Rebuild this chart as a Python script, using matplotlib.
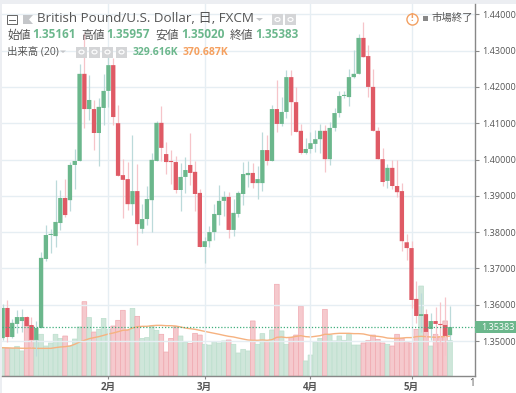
import matplotlib
matplotlib.use("Agg")
import matplotlib.pyplot as plt
from matplotlib.patches import Rectangle, Circle, Polygon

plt.rcParams['font.family'] = ['Open Sans', 'Noto Sans CJK JP', 'DejaVu Sans']

opens = [1.3508, 1.3591, 1.3511, 1.3547, 1.3555, 1.3566, 1.3544, 1.3503, 1.3536, 1.3726,
         1.3792, 1.3789, 1.3825, 1.3894, 1.3888, 1.3985, 1.3996, 1.4236, 1.4139, 1.4139,
         1.4073, 1.4142, 1.4189, 1.4260, 1.4100, 1.3957, 1.3946, 1.3877, 1.3913, 1.3809,
         1.3836, 1.3888, 1.3996, 1.4101, 1.4015, 1.3996, 1.3993, 1.3916, 1.3952, 1.3985,
         1.3966, 1.3908, 1.3759, 1.3775, 1.3800, 1.3847, 1.3886, 1.3897, 1.3806, 1.3850,
         1.3905, 1.3957, 1.3963, 1.3935, 1.3935, 1.4026, 1.3996, 1.4139, 1.4098, 1.4131,
         1.4227, 1.4158, 1.4079, 1.4018, 1.4029, 1.4043, 1.4056, 1.4079, 1.4001, 1.4087,
         1.4128, 1.4175, 1.4172, 1.4227, 1.4236, 1.4335, 1.4285, 1.4200, 1.4079, 1.4001,
         1.3941, 1.3977, 1.3927, 1.3913, 1.3772, 1.3756, 1.3616, 1.3569, 1.3574, 1.3533,
         1.3555, 1.3547, 1.3544, 1.35161]
closes = [1.3591, 1.3511, 1.3550, 1.3566, 1.3566, 1.3541, 1.3503, 1.3536, 1.3729, 1.3792,
          1.3795, 1.3828, 1.3894, 1.3847, 1.3985, 1.3996, 1.4236, 1.4139, 1.4164, 1.4073,
          1.4145, 1.4189, 1.4260, 1.4117, 1.3955, 1.3944, 1.3877, 1.3913, 1.3822, 1.3836,
          1.3891, 1.3999, 1.4101, 1.4032, 1.3993, 1.3993, 1.3916, 1.3952, 1.3971, 1.3963,
          1.3905, 1.3759, 1.3775, 1.3800, 1.3850, 1.3886, 1.3897, 1.3806, 1.3853, 1.3908,
          1.3960, 1.3963, 1.3935, 1.3946, 1.4026, 1.3996, 1.4139, 1.4098, 1.4131, 1.4227,
          1.4158, 1.4076, 1.4018, 1.4029, 1.4045, 1.4056, 1.4079, 1.4001, 1.4087, 1.4128,
          1.4175, 1.4178, 1.4227, 1.4236, 1.4335, 1.4282, 1.4200, 1.4079, 1.4001, 1.3938,
          1.3977, 1.3927, 1.3910, 1.3775, 1.3756, 1.3613, 1.3569, 1.3574, 1.3525, 1.3555,
          1.3547, 1.3544, 1.3514, 1.35383]
highs = [1.3602, 1.3613, 1.3561, 1.3585, 1.3588, 1.3569, 1.3566, 1.3555, 1.3745, 1.3820,
         1.3809, 1.3943, 1.3916, 1.3946, 1.3993, 1.4029, 1.4263, 1.4348, 1.4233, 1.4164,
         1.4169, 1.4236, 1.4282, 1.4280, 1.4150, 1.4001, 1.3993, 1.4067, 1.3988, 1.3877,
         1.3927, 1.4018, 1.4106, 1.4147, 1.4048, 1.4026, 1.4010, 1.3990, 1.4007, 1.4073,
         1.3996, 1.3919, 1.3787, 1.3817, 1.3877, 1.3930, 1.3913, 1.3911, 1.3891, 1.3913,
         1.3993, 1.3996, 1.3990, 1.3982, 1.4075, 1.4067, 1.4150, 1.4219, 1.4172, 1.4246,
         1.4246, 1.4200, 1.4098, 1.4059, 1.4076, 1.4081, 1.4098, 1.4095, 1.4103, 1.4142,
         1.4189, 1.4189, 1.4249, 1.4302, 1.4346, 1.4379, 1.4315, 1.4249, 1.4090, 1.4032,
         1.3988, 1.3999, 1.3999, 1.3935, 1.3795, 1.3775, 1.3665, 1.3632, 1.3588, 1.3577,
         1.3594, 1.3607, 1.3621, 1.35957]
lows = [1.3503, 1.3497, 1.3508, 1.3522, 1.3525, 1.3525, 1.3483, 1.3459, 1.3536, 1.3720,
        1.3742, 1.3759, 1.3806, 1.3842, 1.3858, 1.3919, 1.3996, 1.4087, 1.4109, 1.4026,
        1.3982, 1.4095, 1.4145, 1.4095, 1.3955, 1.3839, 1.3861, 1.3847, 1.3764, 1.3798,
        1.3820, 1.3800, 1.3996, 1.3996, 1.3960, 1.3932, 1.3908, 1.3858, 1.3908, 1.3930,
        1.3858, 1.3759, 1.3715, 1.3759, 1.3778, 1.3820, 1.3844, 1.3784, 1.3789, 1.3842,
        1.3875, 1.3924, 1.3921, 1.3891, 1.3913, 1.3985, 1.3996, 1.4076, 1.4092, 1.4114,
        1.4067, 1.4076, 1.4015, 1.4015, 1.4018, 1.4021, 1.4018, 1.3966, 1.3985, 1.4079,
        1.4117, 1.4170, 1.4147, 1.4225, 1.4236, 1.4282, 1.4172, 1.4079, 1.4001, 1.3927,
        1.3921, 1.3920, 1.3897, 1.3748, 1.3723, 1.3591, 1.3550, 1.3525, 1.3503, 1.3503,
        1.3483, 1.3489, 1.3461, 1.35020]

volumes = [257, 257, 257, 276, 233, 543, 465, 341, 388, 279, 307, 388, 350, 372, 279, 344,
           456, 691, 543, 409, 434, 536, 434, 465, 518, 611, 428, 629, 555, 350, 357, 465,
           425, 388, 223, 350, 459, 372, 316, 304, 397, 381, 295, 288, 319, 307, 326, 335,
           295, 214, 248, 233, 512, 295, 394, 326, 428, 853, 419, 295, 357, 381, 651, 140,
           195, 316, 350, 620, 381, 326, 372, 332, 388, 288, 288, 307, 332, 381, 341, 307,
           295, 279, 388, 350, 319, 307, 434, 837, 450, 279, 388, 363, 512, 329.616]
vol_ma = [263, 262, 260, 260, 258, 258, 260, 257, 257, 257, 257, 264, 270, 273, 279, 295,
          316, 332, 347, 357, 366, 378, 391, 400, 412, 425, 428, 446, 459, 462, 462, 468,
          471, 471, 468, 468, 465, 456, 446, 440, 434, 425, 415, 406, 397, 388, 378, 369,
          363, 353, 344, 335, 332, 332, 335, 332, 338, 360, 363, 357, 360, 369, 375, 366,
          363, 369, 375, 388, 388, 394, 397, 397, 397, 394, 394, 391, 381, 372, 369, 363,
          353, 350, 350, 353, 357, 357, 366, 369, 366, 363, 360, 366, 366, 370.687]

price_ticks = [1.35, 1.36, 1.37, 1.38, 1.39, 1.40, 1.41, 1.42, 1.43, 1.44]
month_pos = [22, 42, 64, 85]
month_labels = ['2月', '3月', '4月', '5月']
last_price = 1.35383

GREEN = '#6bb78c'
RED = '#df5a65'
GREY = '#555555'

W, H = 516, 393
fig = plt.figure(figsize=(W / 100, H / 100), dpi=100, facecolor='white')


def fx(x):
    return x / W


def fy(y):
    return 1 - y / H


def label(x, y, s, color=GREY, size=8.5, **kw):
    return fig.text(fx(x), fy(y), s, color=color, fontsize=size, va='center', **kw)


# background bands around the chart
fig.patches.append(Rectangle((0, fy(4)), 1, 4 / H, transform=fig.transFigure, color='#eceef2', lw=0))
fig.patches.append(Rectangle((0, 0), 2 / W, 1, transform=fig.transFigure, color='#eceef2', lw=0))

rect = [fx(2), fy(376), 473 / W, 372 / H]
vol_ax = fig.add_axes(rect)
ax = fig.add_axes(rect)
ax.patch.set_visible(False)
vol_ax.set_zorder(1)
ax.set_zorder(2)

x = list(range(len(opens)))
up = [c >= o for o, c in zip(opens, closes)]

# volume
vol_bars = vol_ax.bar(x, volumes, width=0.98,
                      color=['#cfe6da' if u else '#f5c9cd' for u in up],
                      edgecolor=['#bcdfcd' if u else '#f0a9b0' for u in up], linewidth=0.5)
for b in vol_bars:
    b.set_snap(False)
vol_ax.plot(x, vol_ma, color='#f6b280', lw=1.0)
vol_ax.set_xlim(-0.125, 98.2)
vol_ax.set_ylim(0, 3460)
vol_ax.axis('off')

# candles
ax.vlines(x, lows, highs, colors=['#bcdada' if u else '#f6c4c9' for u in up], lw=0.9, zorder=3)
bodies = ax.bar(x, [abs(c - o) for o, c in zip(opens, closes)], bottom=[min(o, c) for o, c in zip(opens, closes)],
                width=0.9, color=[GREEN if u else RED for u in up], linewidth=0, zorder=4)
for b in bodies:
    b.set_snap(False)
ax.axhline(last_price, color='#3fae7c', lw=0.9, ls=(0, (1, 1.5)), zorder=5)

ax.set_xlim(-0.125, 98.2)
ax.set_ylim(1.34036, 1.44284)
ax.yaxis.tick_right()
ax.set_yticks(price_ticks)
ax.set_yticklabels(['%.5f' % p for p in price_ticks], fontsize=6.5, color=GREY)
ax.set_xticks(month_pos)
ax.set_xticklabels(month_labels, fontsize=7, color=GREY, fontweight='bold')
ax.tick_params(axis='y', length=3, width=0.8, color='#888888', pad=2)
ax.tick_params(axis='x', length=2, width=0.8, color='#888888', pad=2)
ax.grid(True, color='#e6eef3', lw=1.0, zorder=0)
ax.set_axisbelow(True)
for s in ['top', 'left']:
    ax.spines[s].set_visible(False)
for s in ['right', 'bottom']:
    ax.spines[s].set_color('#888888')
    ax.spines[s].set_linewidth(1.0)

# last price tag
fig.patches.append(Rectangle((fx(475), fy(333)), 41 / W, 12.5 / H, transform=fig.transFigure, color=GREEN, lw=0, zorder=6))
label(481, 327, '1.35383', color='white', size=6.5, zorder=7)
label(469, 384, '1', size=7)

# header
fig.patches.append(Rectangle((fx(7), fy(24)), 10 / W, 9 / H, transform=fig.transFigure, fc='white', ec='#666666', lw=0.7, zorder=8))
fig.add_artist(plt.Line2D([fx(9), fx(15)], [fy(19.5), fy(19.5)], color='#666666', lw=0.7, zorder=9))
fig.patches.append(Polygon([(fx(23), fy(15)), (fx(33), fy(15)), (fx(29), fy(19.5)), (fx(33), fy(24)), (fx(23), fy(24))],
                           transform=fig.transFigure, color='#c4c6c9', lw=0, zorder=8))
label(37, 19, 'British Pound/U.S. Dollar, 日, FXCM', size=9.65, zorder=9)
fig.patches.append(Polygon([(fx(256), fy(18)), (fx(263), fy(18)), (fx(259.5), fy(21))],
                           transform=fig.transFigure, color='#c4c6c9', lw=0, zorder=8))

for lx, s, vx, v in [(7, '始値', 32, '1.35161'), (81, '高値', 106, '1.35957'),
                     (155, '安値', 181, '1.35020'), (230, '終値', 255, '1.35383')]:
    label(lx, 35, s, size=8.5, zorder=9)
    label(vx, 35, v, color=GREEN, size=8.5, fontweight='bold', zorder=9)

label(7, 52, '出来高 (20)', size=7.5, zorder=9)
fig.patches.append(Polygon([(fx(60), fy(50.5)), (fx(66), fy(50.5)), (fx(63), fy(53))],
                           transform=fig.transFigure, color='#c4c6c9', lw=0, zorder=8))
label(133, 52.5, '329.616K', color=GREEN, size=7.5, fontweight='bold', zorder=9)
label(183, 52.5, '370.687K', color='#f5a05f', size=7.5, fontweight='bold', zorder=9)

# little grey buttons
for bx, by in [(76, 46.5), (89, 46.5), (102, 46.5), (116, 46.5), (272, 14), (285, 14)]:
    fig.patches.append(Rectangle((fx(bx), fy(by + 11)), 11 / W, 11 / H, transform=fig.transFigure, color='#d4d5d7', lw=0, zorder=8))
    fig.patches.append(Circle((fx(bx + 5.5), fy(by + 5.5)), 2.5 / W, transform=fig.transFigure, fc='none', ec='white', lw=0.8, zorder=9))

# market closed badge
fig.add_artist(plt.Line2D([fx(412)], [fy(18.5)], marker='o', ms=8, mfc='white', mec='#f2a062', mew=1.0, zorder=9))
label(412, 18.5, '!', color='#f2a062', size=7, ha='center', fontweight='bold', zorder=10)
fig.patches.append(Rectangle((fx(423), fy(21)), 5 / W, 5 / H, transform=fig.transFigure, color='#888888', lw=0, zorder=8))
label(432, 18.5, '市場終了', size=7.5, zorder=9)

fig.savefig('out.png', dpi=100)
